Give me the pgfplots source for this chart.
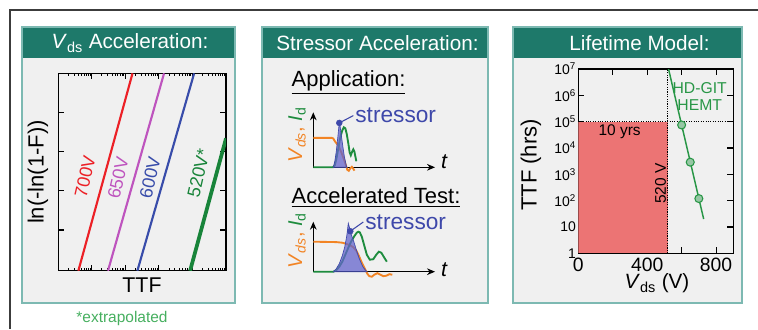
\documentclass[border=0pt]{standalone}
\usepackage{fontspec}
\setmainfont{Liberation Sans}
\usepackage{pgfplots}
\pgfplotsset{compat=1.18}
\usetikzlibrary{arrows.meta}

\definecolor{frame}{RGB}{60,60,60}
\definecolor{panelbg}{RGB}{240,240,240}
\definecolor{panelline}{RGB}{125,185,178}
\definecolor{header}{RGB}{30,121,106}
\definecolor{c700}{RGB}{236,32,38}
\definecolor{c650}{RGB}{190,84,190}
\definecolor{c600}{RGB}{56,76,170}
\definecolor{c520}{RGB}{24,132,58}
\definecolor{vds}{RGB}{242,132,36}
\definecolor{idc}{RGB}{30,140,62}
\definecolor{stress}{RGB}{62,72,170}
\definecolor{stressfill}{RGB}{100,100,205}
\definecolor{tenyrs}{RGB}{236,116,116}
\definecolor{hemt}{RGB}{40,150,70}
\definecolor{extra}{RGB}{70,175,95}

\newcommand{\fs}[1]{\fontsize{#1}{#1}\selectfont}

% schematic waveform axes (1 unit = 1 px = 0.75pt)
\pgfplotsset{sketch/.style={
  anchor=south west, scale only axis, axis lines=left,
  xmin=0, xmax=121.7, ymin=0,
  xtick=\empty, ytick=\empty, clip=false,
  axis line style={line width=0.9pt, -{Stealth[length=6pt,width=5pt]}},
}}

\begin{document}
\begin{tikzpicture}
\useasboundingbox (0,0) rectangle (568.5pt,246.75pt);
\begin{scope}[x=0.75pt,y=0.75pt]
\draw[frame, line width=1.1pt] (758,319) -- (10,319) -- (10,0);
\foreach \a/\b in {22/235,262/488,513/742}{
  \fill[panelbg] (\a,26) rectangle (\b,302);
  \fill[header] (\a,271) rectangle (\b,302);
  \draw[panelline, line width=1.1pt] (\a,26) rectangle (\b,302);
}
\node[white, font={\fs{15.5}}] at (130,286) {\textit{V}\textsubscript{ds} Acceleration:};
\node[white, font={\fs{15.5}}] at (377.5,286) {Stressor Acceleration:};
\node[white, font={\fs{15.5}}] at (639.5,286) {Lifetime Model:};
\end{scope}

% ---- panel 1: Weibull lines
\begin{axis}[at={(58.3*0.75pt,58.3*0.75pt)}, anchor=south west, scale only axis,
  width=125.8pt, height=148pt,
  xmode=log, xmin=1, xmax=1e5, ymin=-1.04, ymax=4,
  ytick={0,1,2,3}, xticklabels={}, yticklabels={},
  tick align=inside, tick pos=both,
  major tick length=4.5pt, minor tick length=2.2pt,
  tick style={black, line width=0.8pt},
  axis line style={line width=1.1pt}]
\addplot[c700, line width=1.6pt] coordinates {(3.97,-1.04) (163,4)};
\addplot[c650, line width=1.6pt] coordinates {(30.3,-1.04) (1420,4)};
\addplot[c600, line width=1.6pt] coordinates {(228,-1.04) (11200,4)};
\addplot[c520, line width=2.8pt] coordinates {(8500,-1.04) (100000,2.34)};
\end{axis}

% ---- panel 2: waveforms
\begin{axis}[sketch, at={(313.3*0.75pt,161.7*0.75pt)}, width=91.3pt, height=41.25pt, ymax=55]
\addplot[vds, line width=1.4pt] coordinates {(0,29.4) (18.5,29.4) (20,28.8) (21,27) (22,25.5) (25,21.7) (28,15) (31,7) (32.7,1.7) (34,-2.5) (35.5,-3.5) (37,-1) (38.5,0.5) (40,-1.5) (41.2,-3.3)};
\addplot[idc, line width=1.4pt] coordinates {(0,0) (19.7,0) (21.5,2) (23,8) (25,19) (27,30) (29,37) (30.5,40) (32,39) (33.5,33) (35,24) (36.3,15) (37.5,12) (38.8,15.5) (40,18) (41,16) (42,11) (43,6)};
\addplot[fill=stressfill, fill opacity=0.75, draw=stress, line width=0.5pt] coordinates {(20,0) (21.5,6) (23,16) (24.5,30) (25.5,40) (26,44.4) (26.8,41) (28,32) (29.5,21) (31,11) (32.5,4) (33.4,0)} -- cycle;
\addplot[only marks, mark=*, mark size=2.2pt, stress] coordinates {(26,44.4)};
\draw[stress, line width=0.8pt] (axis cs:26,44.4) -- (axis cs:40,51.7);
\node[stress, anchor=west, font={\fs{17}}, inner sep=1pt] at (axis cs:40.5,51.7) {stressor};
\end{axis}

\begin{axis}[sketch, at={(313.3*0.75pt,57.3*0.75pt)}, width=91.3pt, height=37.5pt, ymax=50]
\addplot[vds, line width=1.4pt] coordinates {(0,30) (23,29.6) (29,29) (33,27.8) (37,26.3) (40,24.5) (43,21) (46,15) (49,8) (52,2) (54,-2) (56,-4.5) (58.5,-5) (61,-3) (64,-1.5) (67,-3) (70,-4.5) (73,-4) (76,-2.5) (79,-3)};
\addplot[idc, line width=1.4pt] coordinates {(0,0) (20,0) (23,1.5) (26,5) (29,10) (32,17) (35,24) (38,30.5) (41,35.5) (43.5,39) (45,40) (46.5,39.3) (48.5,35) (51,26) (53.5,17) (56.5,12) (60,12.5) (63,17) (65.5,20) (68,19) (71,14) (73.5,10)};
\addplot[fill=stressfill, fill opacity=0.75, draw=stress, line width=0.5pt] coordinates {(20,0) (23,3) (26,8) (29,16) (31.5,25) (33.5,36) (35,48.4) (36.5,43) (38,37) (40.5,30) (43,22) (46,13) (49.5,5) (53.4,0)} -- cycle;
\addplot[only marks, mark=*, mark size=2.2pt, stress] coordinates {(37,40.5)};
\draw[stress, line width=0.8pt] (axis cs:37,40.5) -- (axis cs:50,49.7);
\node[stress, anchor=west, font={\fs{17}}, inner sep=1pt] at (axis cs:50.5,49.7) {stressor};
\end{axis}

% ---- panel 3: lifetime model
\begin{axis}[at={(578.3*0.75pt,75.7*0.75pt)}, anchor=south west, scale only axis,
  width=116.25pt, height=138.2pt,
  xmin=0, xmax=900, ymode=log, ymin=1, ymax=1e7,
  xtick={0,400,800}, minor xtick={200,600}, xticklabels={0,400,800},
  ytick={1,10,100,1000,10000,100000,1000000,10000000},
  yticklabels={1,10,10\textsuperscript{2},10\textsuperscript{3},10\textsuperscript{4},10\textsuperscript{5},10\textsuperscript{6},10\textsuperscript{7}},
  yminorticks=false,
  tick align=inside, tick pos=both,
  major tick length=4.5pt, minor tick length=4.5pt,
  tick style={black, line width=0.8pt},
  axis line style={line width=1.1pt},
  x tick label style={font={\fs{14.5}}},
  y tick label style={font={\fs{10.5}}, inner sep=1.5pt}]
\addplot[fill=tenyrs, draw=none] coordinates {(0,1) (0,100000) (520,100000) (520,1)} -- cycle;
\addplot[black, densely dotted, line width=0.8pt] coordinates {(0,100000) (900,100000)};
\addplot[black, densely dotted, line width=0.8pt] coordinates {(520,1) (520,10000000)};
\addplot[hemt, line width=1.1pt] coordinates {(524,10000000) (728,20)};
\addplot[only marks, mark=*, mark size=3pt, mark options={draw=hemt, fill=hemt!45!panelbg, line width=0.8pt}] coordinates {(600,75000) (650,2900) (700,120)};
\node[font={\fs{11.6}}] at (axis cs:240,40000) {10 yrs};
\node[rotate=90, font={\fs{11.6}}] at (axis cs:478,450) {520 V};
\node[hemt, align=center, font={\fontsize{11.8}{12.5}\selectfont}, inner sep=0pt] at (axis cs:705,900000) {HD-GIT\\HEMT};
\end{axis}

\begin{scope}[x=0.75pt,y=0.75pt]
\node[c700, rotate=77, font={\fs{13.5}}] at (85,152.5) {700V};
\node[c650, rotate=77, font={\fs{13.5}}] at (118,151) {650V};
\node[c600, rotate=77, font={\fs{13.5}}] at (150,151.5) {600V};
\node[c520, rotate=77, font={\fs{13.5}}] at (198.5,156) {520V*};
\node[font={\fs{16}}] at (142,43.5) {TTF};
\node[rotate=90, font={\fs{16.5}}] at (38,157) {ln(-ln(1-F))};
\node[extra, font={\fs{11.6}}] at (122,10) {*extrapolated};

\node[anchor=base west, font={\fs{16.5}}] at (287,242) {\underline{Application:}};
\node[anchor=base west, font={\fs{16.5}}] at (287,125) {\underline{Accelerated Test:}};
\node[rotate=90, font={\fs{15}}] at (297,194) {\textcolor{vds}{\textit{V}\textsubscript{\textit{ds}},} \textcolor{idc}{\textit{I}\textsubscript{d}}};
\node[font={\fs{16}\itshape}] at (444,167) {t};
\node[rotate=90, font={\fs{15}}] at (297,88.5) {\textcolor{vds}{\textit{V}\textsubscript{\textit{ds}},} \textcolor{idc}{\textit{I}\textsubscript{d}}};
\node[font={\fs{16}\itshape}] at (444,59) {t};

\node[font={\fs{15.5}}] at (657,46) {\textit{V}\textsubscript{ds} (V)};
\node[rotate=90, font={\fs{16.5}}] at (531,164) {TTF (hrs)};
\end{scope}
\end{tikzpicture}
\end{document}
